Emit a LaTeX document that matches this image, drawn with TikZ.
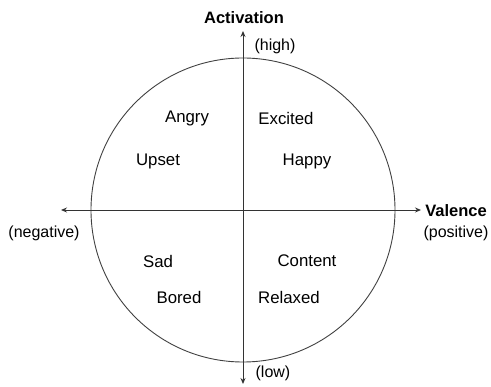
\documentclass[tikz,border=0pt]{standalone}
\usepackage{fontspec}
\setmainfont{Liberation Sans}
\usetikzlibrary{arrows.meta}
\begin{document}
\begin{tikzpicture}[x=1pt,y=-1pt,
  axis/.style={draw=black!80, line width=0.9pt, -{Stealth[length=6pt,width=5pt]}},
  ring/.style={draw=black!75, line width=0.9pt},
  word/.style={font=\fontsize{16.8}{19}\selectfont, inner sep=0pt},
  side/.style={font=\fontsize{16}{18}\selectfont, inner sep=0pt},
  title/.style={font=\fontsize{16.5}{19}\selectfont\bfseries, inner sep=0pt}]
  \useasboundingbox (0,0) rectangle (491,387);
  \coordinate (c) at (243,210);
  \draw[ring] (c) circle (152);
  % axes
  \coordinate (vtop) at (243,31);
  \coordinate (vbot) at (243,384);
  \coordinate (hl) at (61,210);
  \coordinate (hr) at (421,210);
  \draw[axis] (c) -- (vtop);
  \draw[axis] (c) -- (vbot);
  \draw[axis] (c) -- (hl);
  \draw[axis] (c) -- (hr);
  % axis labels
  \node[title] (act) at (244,18) {Activation};
  \node[side] (high) at (275,46) {(high)};
  \node[side] (low) at (273,373) {(low)};
  \node[side] (neg) at (44,233) {(negative)};
  \node[title] (val) at (456,211) {Valence};
  \node[side] (pos) at (456,233) {(positive)};
  % emotions
  \node[word] (angry) at (187,118) {Angry};
  \node[word] (excited) at (286,118) {Excited};
  \node[word] (upset) at (158,161) {Upset};
  \node[word] (happy) at (307,161) {Happy};
  \node[word] (sad) at (158,261) {Sad};
  \node[word] (content) at (307,261) {Content};
  \node[word] (bored) at (179,297) {Bored};
  \node[word] (relaxed) at (289,297) {Relaxed};
\end{tikzpicture}
\end{document}
